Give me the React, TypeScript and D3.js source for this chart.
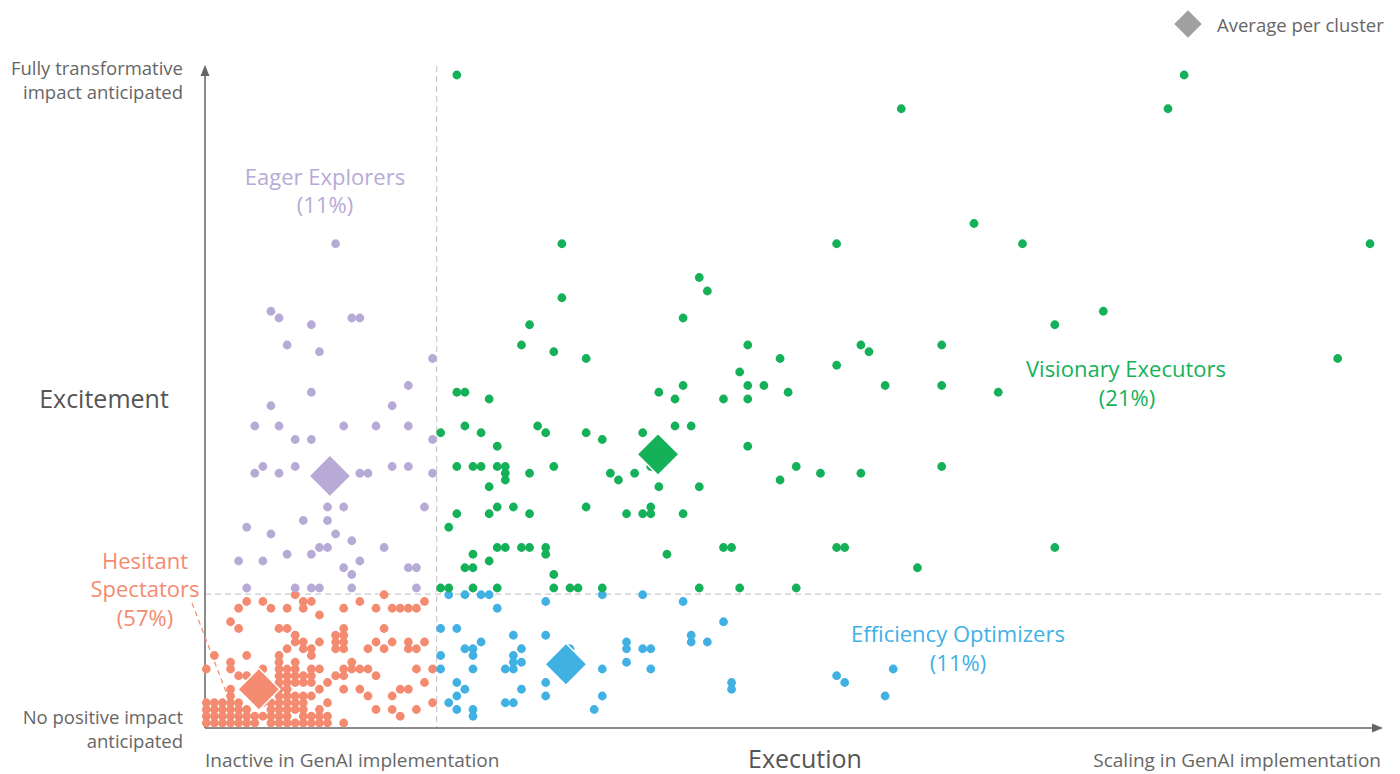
import React from "react";
import * as d3 from "d3";

// execution score (x, 0-144) and excitement score (y, 0-96) per respondent
const hesitant: [number, number][] = [
  [11, 19], [22, 19],
  [5, 18], [7, 18], [12, 18], [13, 18], [19, 18], [27, 18],
  [4, 17], [8, 17], [10, 17], [12, 17], [17, 17], [21, 17], [23, 17], [24, 17], [25, 17], [26, 17],
  [14, 16], [3, 15],
  [4, 14], [9, 14], [10, 14], [17, 14], [22, 14],
  [11, 13], [16, 13], [17, 13],
  [11, 12], [12, 12], [14, 12], [16, 12], [17, 12], [21, 12], [23, 12], [25, 12], [27, 12],
  [10, 11], [12, 11], [13, 11], [16, 11], [17, 11], [20, 11], [22, 11], [25, 11], [26, 11],
  [1, 10], [5, 10], [9, 10], [13, 10],
  [3, 9], [9, 9], [11, 9], [18, 9],
  [0, 8], [3, 8], [7, 8], [9, 8], [10, 8], [11, 8], [13, 8], [14, 8], [17, 8], [18, 8], [19, 8], [20, 8], [26, 8], [28, 8],
  [4, 7], [5, 7], [9, 7], [10, 7], [11, 7], [12, 7], [13, 7], [16, 7], [17, 7], [21, 7],
  [9, 6], [10, 6], [11, 6], [12, 6], [13, 6], [15, 6], [27, 6],
  [3, 5], [9, 5], [10, 5], [14, 5], [17, 5], [19, 5], [24, 5], [25, 5],
  [3, 4], [9, 4], [10, 4], [11, 4], [12, 4], [13, 4], [20, 4], [23, 4],
  [0, 3], [1, 3], [2, 3], [3, 3], [4, 3], [7, 3], [8, 3], [9, 3], [10, 3], [11, 3], [12, 3], [15, 3], [28, 3],
  [0, 2], [1, 2], [2, 2], [3, 2], [4, 2], [5, 2], [8, 2], [9, 2], [10, 2], [11, 2], [12, 2], [14, 2], [21, 2], [23, 2], [26, 2],
  [0, 1], [1, 1], [2, 1], [3, 1], [4, 1], [5, 1], [6, 1], [7, 1], [8, 1], [9, 1], [10, 1], [12, 1], [13, 1], [14, 1], [15, 1], [24, 1],
  [0, 0], [1, 0], [2, 0], [3, 0], [4, 0], [5, 0], [6, 0], [8, 0], [9, 0], [10, 0], [11, 0], [12, 0], [13, 0], [14, 0], [15, 0], [17, 0],
];

const explorers: [number, number][] = [
  [16, 71], [8, 61], [9, 60], [13, 59], [18, 60], [19, 60], [10, 56], [14, 55], [28, 54],
  [13, 49], [25, 50], [8, 47], [23, 47],
  [6, 44], [9, 44], [17, 44], [21, 44], [25, 44],
  [11, 42], [13, 42], [28, 42],
  [7, 38], [11, 38], [23, 38], [25, 38],
  [6, 37], [9, 37], [19, 37], [20, 37], [28, 37],
  [15, 32], [17, 32], [27, 32],
  [12, 30], [15, 30], [5, 29], [8, 28], [16, 28], [18, 27],
  [14, 26], [15, 26], [22, 26], [10, 25], [13, 25],
  [4, 24], [7, 24], [19, 24], [17, 23], [25, 23], [26, 23], [18, 22],
  [5, 20], [11, 20], [13, 20], [14, 20], [18, 20], [26, 20],
];

const optimizers: [number, number][] = [
  [30, 19], [32, 19], [34, 19], [35, 19], [49, 19], [54, 19],
  [42, 18], [59, 18], [36, 17], [64, 15],
  [29, 14], [31, 14],
  [38, 13], [42, 13], [60, 13],
  [34, 12], [52, 12], [60, 12], [62, 12],
  [32, 11], [33, 11], [39, 11], [45, 11], [52, 11], [54, 11], [55, 11],
  [29, 10], [33, 10], [38, 10],
  [38, 9], [39, 9], [52, 9],
  [29, 8], [33, 8], [37, 8], [38, 8], [49, 8], [55, 8], [85, 8],
  [78, 7], [31, 6], [42, 6], [65, 6], [79, 6],
  [32, 5], [39, 5], [65, 5],
  [31, 4], [42, 4], [49, 4], [84, 4],
  [30, 3], [37, 3], [38, 3],
  [31, 2], [33, 2], [48, 2], [33, 1],
];

const executors: [number, number][] = [
  [31, 96], [121, 96], [86, 91], [119, 91], [95, 74],
  [44, 71], [78, 71], [101, 71], [144, 71],
  [61, 66], [62, 64], [44, 63], [111, 61], [59, 60], [40, 59], [105, 59],
  [39, 56], [67, 56], [81, 56], [91, 56], [43, 55], [82, 55],
  [47, 54], [71, 54], [140, 54], [78, 53], [66, 52],
  [59, 50], [67, 50], [69, 50], [84, 50], [91, 50],
  [31, 49], [32, 49], [56, 49], [72, 49], [98, 49],
  [35, 48], [58, 48], [64, 48], [67, 48],
  [32, 44], [41, 44], [58, 44], [60, 44],
  [29, 43], [34, 43], [42, 43], [47, 43], [54, 43],
  [49, 42], [36, 41], [67, 41],
  [31, 38], [33, 38], [34, 38], [36, 38], [37, 38], [43, 38], [55, 38], [73, 38], [91, 38],
  [37, 37], [40, 37], [50, 37], [53, 37], [76, 37], [81, 37],
  [37, 36], [51, 36], [71, 36],
  [35, 35], [56, 35], [61, 35],
  [36, 32], [38, 32], [47, 32], [55, 32],
  [31, 31], [35, 31], [40, 31], [52, 31], [54, 31], [55, 31], [59, 31],
  [30, 29],
  [36, 26], [37, 26], [39, 26], [40, 26], [42, 26], [64, 26], [65, 26], [78, 26], [79, 26], [105, 26],
  [33, 25], [42, 25], [57, 25],
  [35, 24], [32, 23], [33, 23], [88, 23], [43, 22],
  [29, 20], [30, 20], [33, 20], [36, 20], [43, 20], [45, 20], [46, 20], [49, 20], [61, 20], [66, 20], [73, 20],
];

const clusterNames = ["Hesitant Spectators", "Eager Explorers", "Efficiency Optimizers", "Visionary Executors"];
const clusterShares = ["(57%)", "(11%)", "(11%)", "(21%)"];
const clusterColors = ["#F48A70", "#B7AAD6", "#41B1E4", "#14B159"];
// cluster averages as drawn (diamonds)
const clusterAvgX = [6.5, 15.3, 44.5, 55.9];
const clusterAvgY = [5.0, 36.6, 8.7, 39.8];

const xSplit = 28.5;
const ySplit = 19.1;

const FONT = "'Open Sans', 'Noto Sans', sans-serif";

export default function App() {
  const width = 1400;
  const height = 774;

  const x = d3.scaleLinear().domain([0, 144]).range([206.3, 1370]);
  const y = d3.scaleLinear().domain([0, 96]).range([723, 75]);

  const series = [hesitant, explorers, optimizers, executors];
  const diamond = d3.symbol().type(d3.symbolSquare).size(880)() as string;
  const legendDiamond = d3.symbol().type(d3.symbolSquare).size(380)() as string;

  const axisColor = "#666";
  const textColor = "#666";

  return (
    <svg
      width={width}
      height={height}
      style={{ position: "absolute", left: 0, top: 0, background: "#fff" }}
      fontFamily={FONT}
    >
      {/* split lines */}
      <line x1={x(xSplit)} x2={x(xSplit)} y1={66} y2={728} stroke="#ccc" strokeDasharray="6,4" strokeWidth={1.2} />
      <line x1={205} x2={1382} y1={y(ySplit)} y2={y(ySplit)} stroke="#ccc" strokeDasharray="6,4" strokeWidth={1.2} />

      {/* axes */}
      <line x1={205} x2={205} y1={728} y2={72} stroke={axisColor} strokeWidth={1.5} />
      <path d="M205,65 L200.5,76 L209.5,76 Z" fill={axisColor} />
      <line x1={205} x2={1376} y1={728} y2={728} stroke={axisColor} strokeWidth={1.5} />
      <path d="M1383,728 L1372,723.5 L1372,732.5 Z" fill={axisColor} />

      {/* points */}
      {series.map((pts, i) => (
        <g key={i} fill={clusterColors[i]}>
          {pts.map((p, j) => (
            <circle key={j} cx={x(p[0])} cy={y(p[1])} r={4.4} />
          ))}
        </g>
      ))}

      {/* leader line for Hesitant Spectators */}
      <line x1={192} y1={603} x2={228} y2={697} stroke={clusterColors[0]} strokeWidth={1.2} strokeDasharray="5,4" />

      {/* cluster averages */}
      {clusterAvgX.map((v, i) => (
        <path
          key={i}
          d={diamond}
          transform={`translate(${x(v)},${y(clusterAvgY[i])}) rotate(45)`}
          fill={clusterColors[i]}
          stroke="#fff"
          strokeWidth={1.5}
        />
      ))}

      {/* cluster labels */}
      <g fontSize={22} textAnchor="middle" dominantBaseline="central">
        <text x={325} y={176} fill={clusterColors[1]}>{clusterNames[1]}</text>
        <text x={325} y={204} fill={clusterColors[1]}>{clusterShares[1]}</text>
        <text x={1126} y={368} fill={clusterColors[3]}>{clusterNames[3]}</text>
        <text x={1127} y={397} fill={clusterColors[3]}>{clusterShares[3]}</text>
        <text x={958} y={633} fill={clusterColors[2]}>{clusterNames[2]}</text>
        <text x={958} y={662} fill={clusterColors[2]}>{clusterShares[2]}</text>
        <text x={145} y={560} fill={clusterColors[0]}>{clusterNames[0].split(" ")[0]}</text>
        <text x={145} y={588} fill={clusterColors[0]}>{clusterNames[0].split(" ")[1]}</text>
        <text x={145} y={617} fill={clusterColors[0]}>{clusterShares[0]}</text>
      </g>

      {/* axis end labels */}
      <g fontSize={18.5} fill={textColor} dominantBaseline="central">
        <text x={183} y={67} textAnchor="end">Fully transformative</text>
        <text x={183} y={91} textAnchor="end">impact anticipated</text>
        <text x={183} y={716} textAnchor="end">No positive impact</text>
        <text x={183} y={740} textAnchor="end">anticipated</text>
      </g>
      <g fontSize={19} fill={textColor} dominantBaseline="central">
        <text x={205} y={760} textAnchor="start">Inactive in GenAI implementation</text>
        <text x={1381} y={760} textAnchor="end">Scaling in GenAI implementation</text>
      </g>

      <g fontSize={25} fill="#555" dominantBaseline="central" textAnchor="middle">
        <text x={104} y={398}>Excitement</text>
        <text x={805} y={758}>Execution</text>
      </g>

      {/* legend */}
      <path d={legendDiamond} transform="translate(1188,24) rotate(45)" fill="#a0a0a0" />
      <text x={1217} y={24} fontSize={18.5} fill={textColor} dominantBaseline="central">
        Average per cluster
      </text>
    </svg>
  );
}
